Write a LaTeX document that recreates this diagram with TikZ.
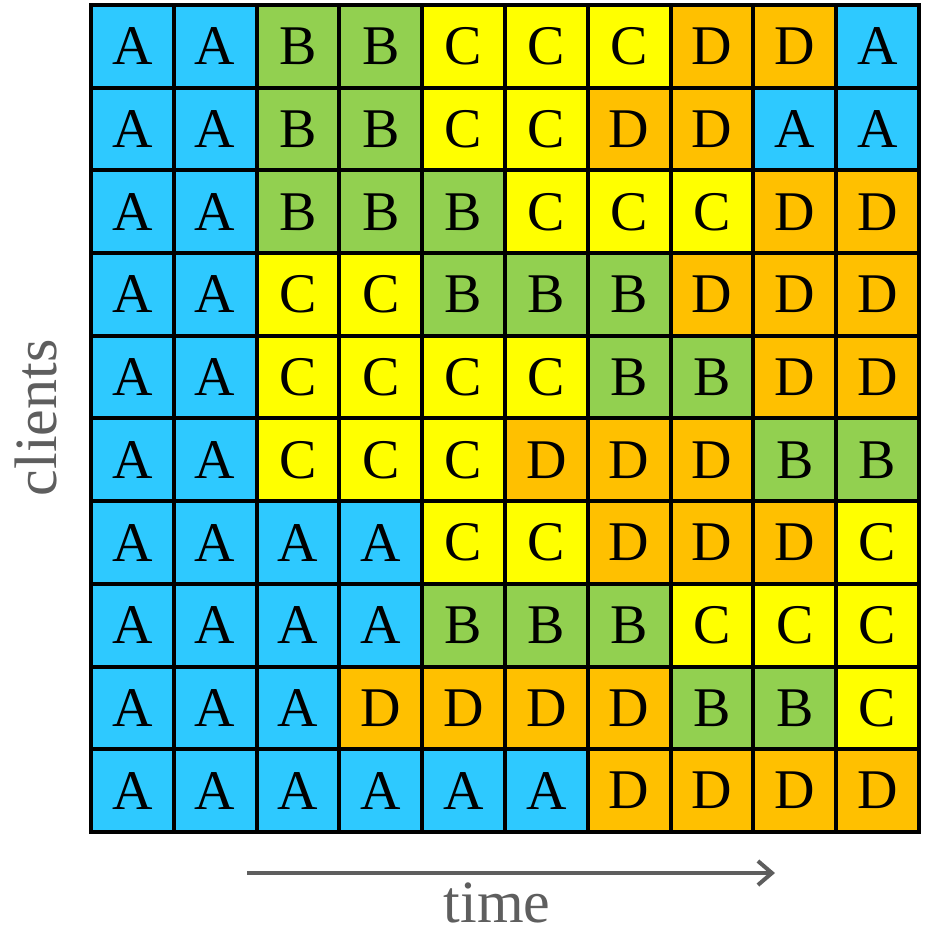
\documentclass[tikz,border=0pt]{standalone}
\usepackage{fontspec}
\setmainfont{Liberation Serif}
\usetikzlibrary{arrows.meta}
\definecolor{cA}{HTML}{2EC9FF}
\definecolor{cB}{HTML}{92D050}
\definecolor{cC}{HTML}{FFFF00}
\definecolor{cD}{HTML}{FFC000}
\definecolor{gr}{HTML}{5E5E5E}
\tikzset{
  cell/.style={draw=black, line width=4pt, minimum size=82.8pt, inner sep=0pt, font=\fontsize{56}{56}\selectfont, text=black},
  axislabel/.style={text=gr, font=\fontsize{60}{60}\selectfont, inner sep=0pt}
}
\begin{document}
\begin{tikzpicture}[x=1pt,y=-1pt]
\useasboundingbox (0,0) rectangle (934,934);
\foreach \r [count=\ri from 0] in {
  {A,A,B,B,C,C,C,D,D,A},
  {A,A,B,B,C,C,D,D,A,A},
  {A,A,B,B,B,C,C,C,D,D},
  {A,A,C,C,B,B,B,D,D,D},
  {A,A,C,C,C,C,B,B,D,D},
  {A,A,C,C,C,D,D,D,B,B},
  {A,A,A,A,C,C,D,D,D,C},
  {A,A,A,A,B,B,B,C,C,C},
  {A,A,A,D,D,D,D,B,B,C},
  {A,A,A,A,A,A,D,D,D,D}}{
  \foreach \L [count=\k from 0] in \r {
    \node[cell, fill=c\L] (c-\ri-\k) at ({91+82.8*(\k+0.5)},{5+82.7*(\ri+0.5)}) {\L};
  }
}
\node[axislabel, rotate=90, anchor=base] (clients) at (56,418) {clients};
\node[axislabel, anchor=base] (time) at (497,922) {time};
\coordinate (t0) at (247,873);
\coordinate (t1) at (775,873);
\draw[gr, line width=4pt, -{Straight Barb[length=14pt,width=24pt,line width=4pt]}] (t0) -- (t1);
\end{tikzpicture}
\end{document}
